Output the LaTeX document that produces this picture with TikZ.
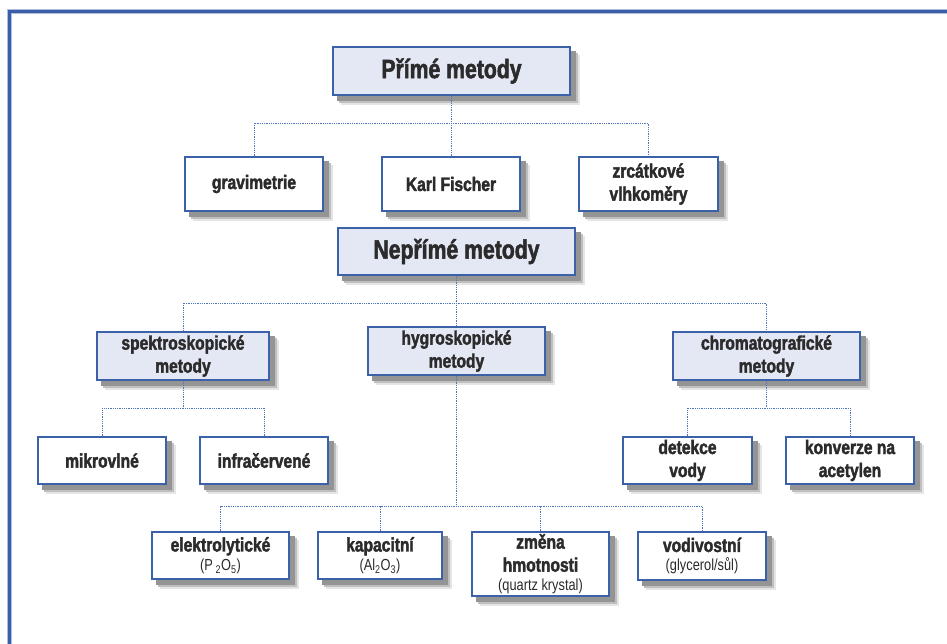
\documentclass[tikz,border=0pt]{standalone}
\usepackage{fontspec}
\setmainfont{Liberation Sans}[FakeStretch=0.8,BoldFeatures={FakeBold=2}]
\usetikzlibrary{backgrounds}
\definecolor{frameblue}{HTML}{3A5EA8}
\definecolor{framelight}{HTML}{AEBEDC}
\definecolor{boxblue}{HTML}{3B62A9}
\definecolor{lav}{HTML}{E4E7F4}
\definecolor{conncol}{HTML}{4F75BD}
\definecolor{txt}{HTML}{2B2B2B}
\tikzset{
  bighead/.style={draw=boxblue,line width=2.2pt,fill=lav,inner sep=0pt,text=txt,
     font=\fontsize{26.5}{30}\selectfont\bfseries,align=center},
  midhead/.style={draw=boxblue,line width=2.2pt,fill=lav,inner sep=0pt,text=txt,
     font=\fontsize{19.5}{23}\selectfont\bfseries,align=center,minimum height=48pt},
  leaf/.style={draw=boxblue,line width=1.3pt,fill=white,inner sep=0pt,text=txt,
     font=\fontsize{19.5}{23}\selectfont\bfseries,align=center},
  conn/.style={draw=conncol,line width=0.9pt,dash pattern=on 0.9pt off 0.9pt},
  shadowA/.style={fill=black!10},
  shadowB/.style={fill=black!25},
  shadowC/.style={fill=black!42}
}
\newcommand{\smalltxt}[1]{{\fontsize{16}{18}\selectfont\mdseries #1}}
\newcommand{\shd}[1]{%
  \fill[shadowA] ([shift={(9,9)}]#1.north west) rectangle ([shift={(9,9)}]#1.south east);
  \fill[shadowB] ([shift={(7,7)}]#1.north west) rectangle ([shift={(7,7)}]#1.south east);
  \fill[shadowC] ([shift={(5,5)}]#1.north west) rectangle ([shift={(5,5)}]#1.south east);}
\begin{document}
\begin{tikzpicture}[x=1pt,y=-1pt]
\useasboundingbox (0,0) rectangle (947,644);
\clip (0,0) rectangle (947,644);

% coordinates of buses
\coordinate (b1) at (0,123);
\coordinate (b2) at (0,303);
\coordinate (b3) at (0,408);
\coordinate (b4) at (0,506);

\node[bighead,minimum width=237pt,minimum height=48pt] (prime) at (451.5,71) {Přímé metody};
\node[leaf,minimum width=138pt,minimum height=54pt] (grav) at (254,184) {gravimetrie};
\node[leaf,minimum width=138pt,minimum height=54pt] (karl) at (451,184) {Karl Fischer};
\node[leaf,minimum width=139pt,minimum height=54pt] (zrc) at (648.5,184) {zrcátkové\\vlhkoměry};

\node[bighead,minimum width=237pt,minimum height=47pt] (neprime) at (456.5,251.5) {Nepřímé metody};

\node[midhead,minimum width=172pt] (spek) at (183,356) {spektroskopické\\metody};
\node[midhead,minimum width=177pt] (hygro) at (456.5,351) {hygroskopické\\metody};
\node[midhead,minimum width=187pt] (chrom) at (766.5,356) {chromatografické\\metody};

\node[leaf,minimum width=128pt,minimum height=47pt] (mikro) at (102,460.5) {mikrovlné};
\node[leaf,minimum width=128pt,minimum height=47pt] (infra) at (264,460.5) {infračervené};
\node[leaf,minimum width=129pt,minimum height=47pt] (detekce) at (687.5,460.5) {detekce\\vody};
\node[leaf,minimum width=128pt,minimum height=47pt] (konv) at (850,460.5) {konverze na\\acetylen};

\node[leaf,minimum width=137pt,minimum height=47pt] (elek) at (220.5,555.5) {elektrolytické\\[-4pt]\smalltxt{(P\,\textsubscript{2}O\textsubscript{5})}};
\node[leaf,minimum width=124pt,minimum height=47pt] (kap) at (380,555.5) {kapacitní\\[-4pt]\smalltxt{(Al\textsubscript{2}O\textsubscript{3})}};
\node[leaf,minimum width=137pt,minimum height=64pt] (zmena) at (540.5,564) {změna\\hmotnosti\\[-4pt]\smalltxt{(quartz krystal)}};
\node[leaf,minimum width=128pt,minimum height=48pt] (vod) at (702,556) {vodivostní\\[-4pt]\smalltxt{(glycerol/sůl)}};

\begin{scope}[on background layer]
\fill[white] (0,0) rectangle (947,644);
\draw[framelight,line width=5pt] (9.5,700) -- (9.5,11.5) -- (980,11.5);
\draw[frameblue,line width=3pt] (9.5,700) -- (9.5,11.5) -- (980,11.5);
\foreach \n in {prime,grav,karl,zrc,neprime,spek,hygro,chrom,mikro,infra,detekce,konv,elek,kap,zmena,vod}{\shd{\n}}
% connectors
\draw[conn] (prime.south) -- (prime.south |- b1);
\draw[conn] (grav.north) |- (zrc.north |- b1) -- (zrc.north);
\draw[conn] (karl.north) -- (karl.north |- b1);

\draw[conn] (neprime.south) -- (neprime.south |- b2);
\draw[conn] (spek.north) |- (chrom.north |- b2) -- (chrom.north);
\draw[conn] (hygro.north) -- (hygro.north |- b2);

\draw[conn] (spek.south) -- (spek.south |- b3);
\draw[conn] (mikro.north) |- (infra.north |- b3) -- (infra.north);

\draw[conn] (chrom.south) -- (chrom.south |- b3);
\draw[conn] (detekce.north) |- (konv.north |- b3) -- (konv.north);

\draw[conn] (hygro.south) -- (hygro.south |- b4);
\draw[conn] (elek.north) |- (vod.north |- b4) -- (vod.north);
\draw[conn] (kap.north) -- (kap.north |- b4);
\draw[conn] (zmena.north) -- (zmena.north |- b4);
\end{scope}
\end{tikzpicture}
\end{document}
